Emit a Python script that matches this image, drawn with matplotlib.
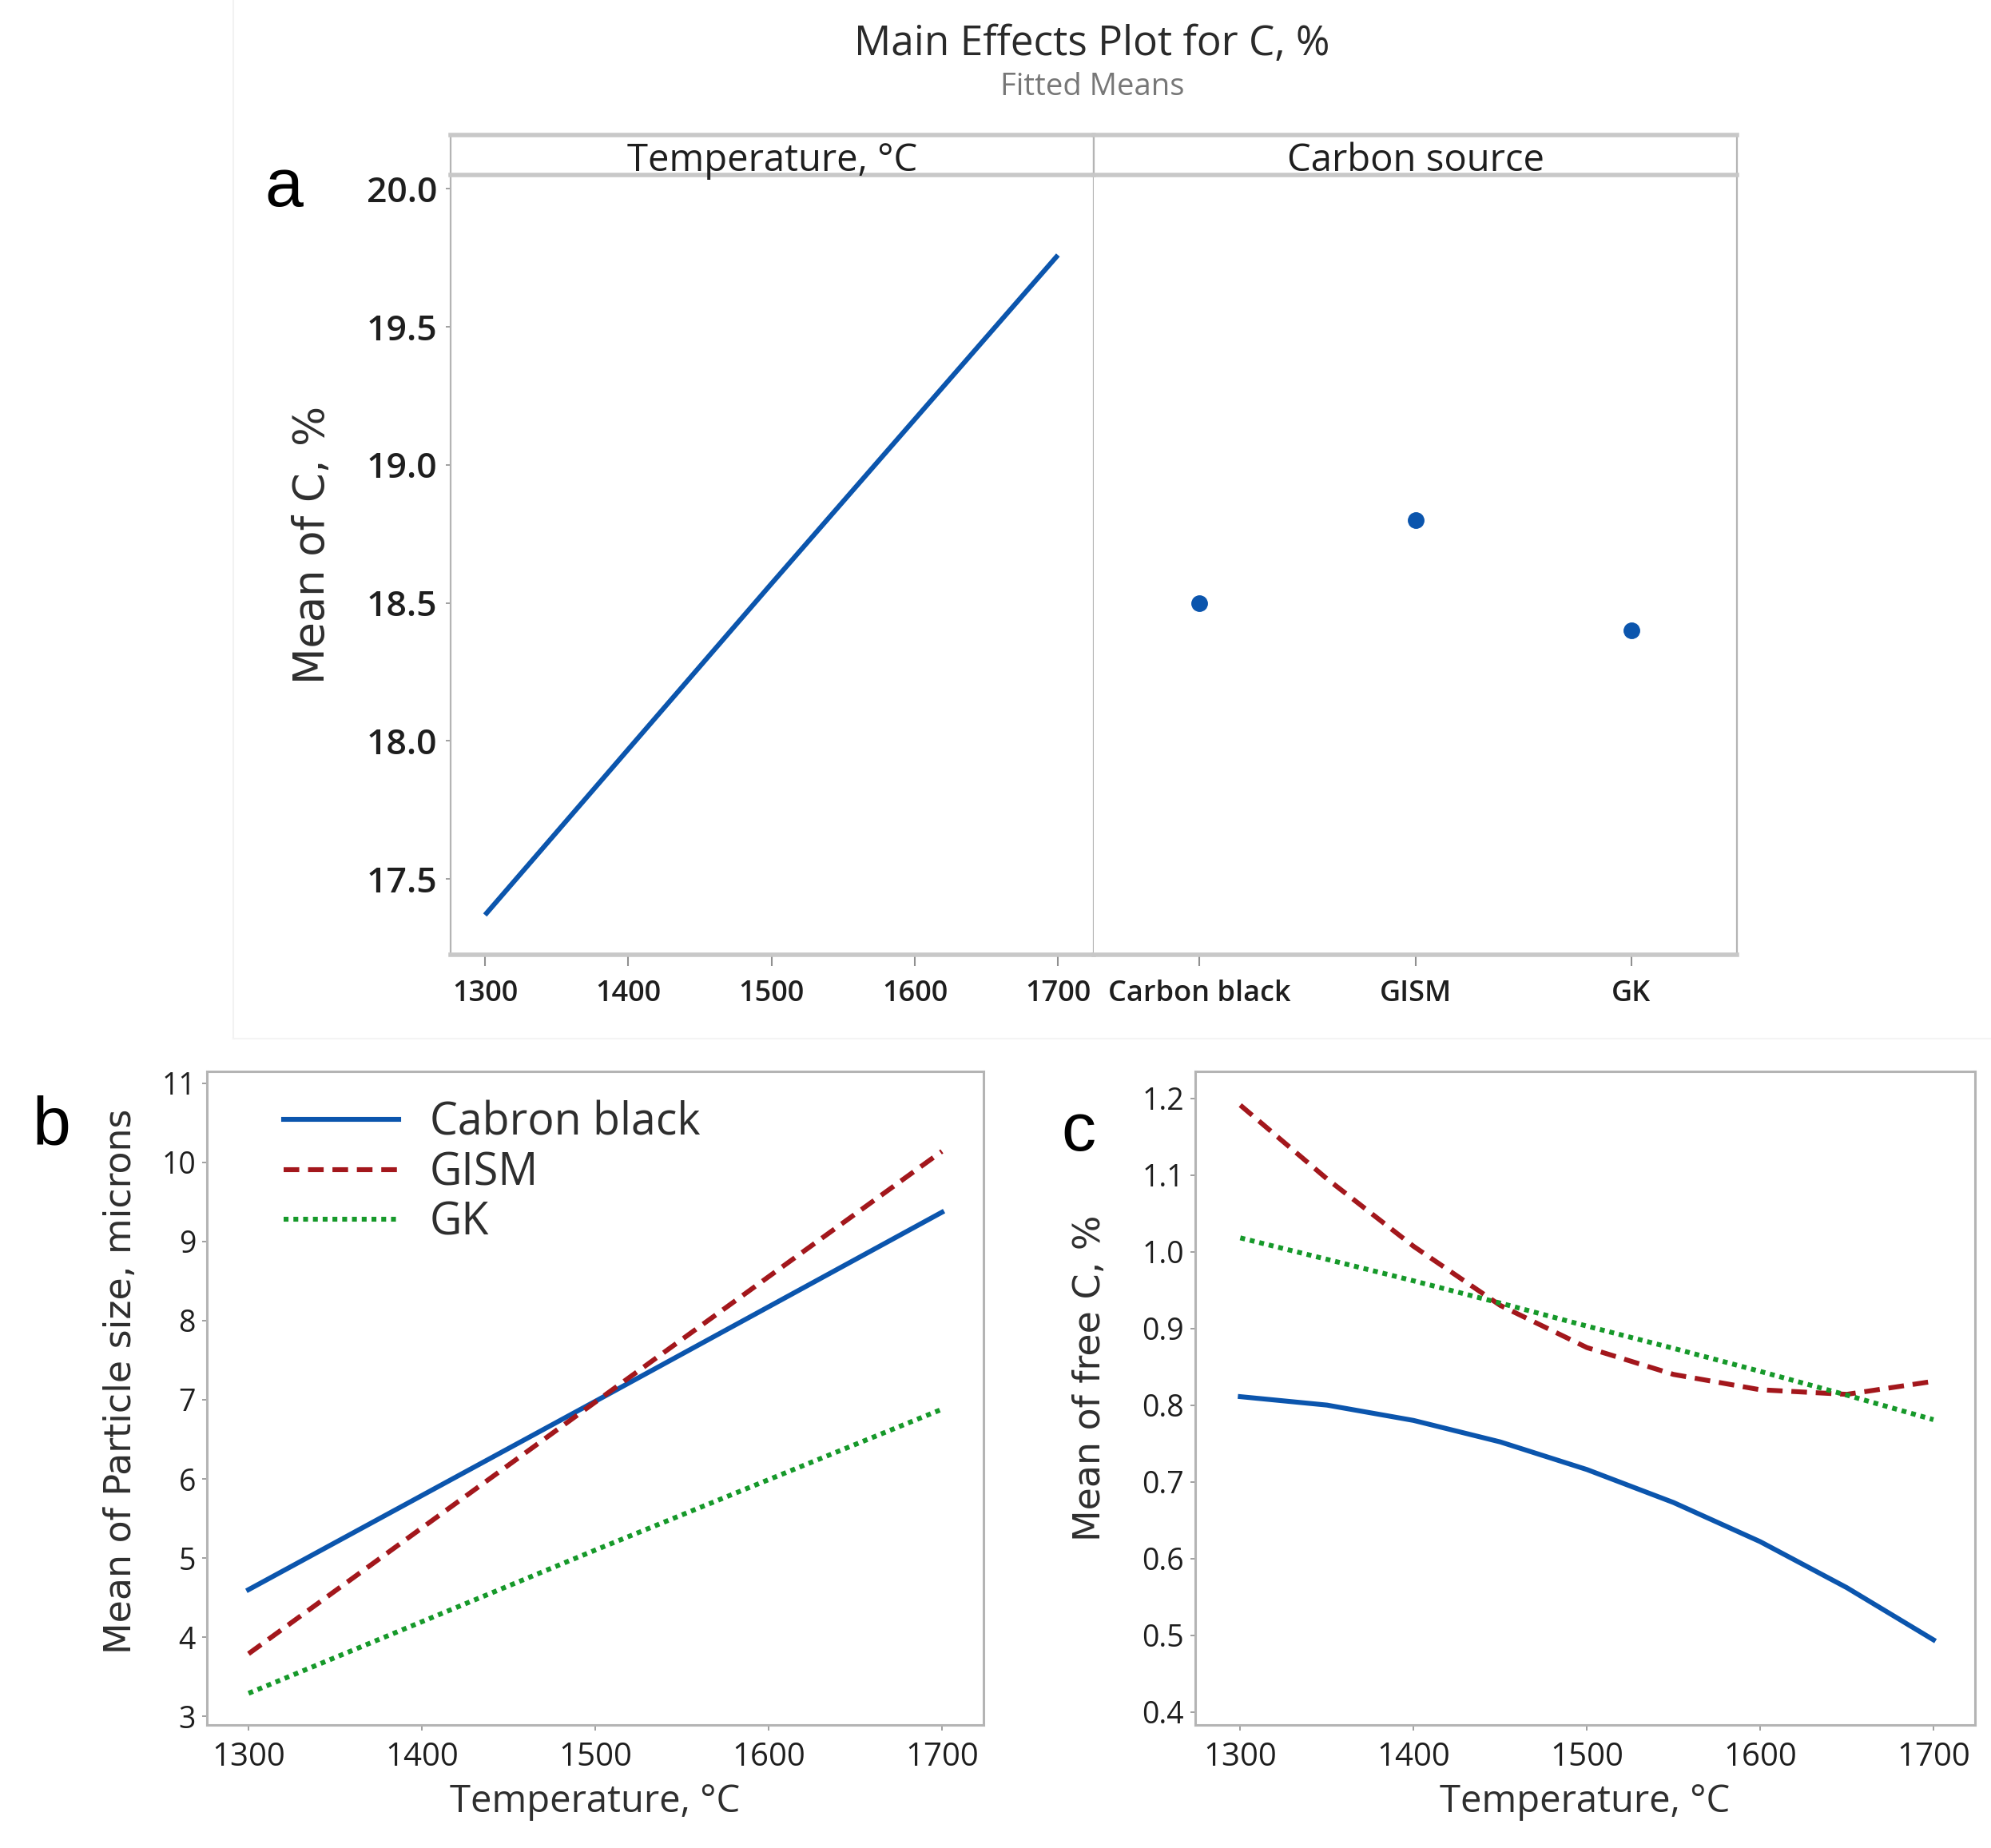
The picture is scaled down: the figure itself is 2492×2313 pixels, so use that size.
import numpy as np
import matplotlib
matplotlib.use('Agg')
import matplotlib.pyplot as plt

plt.rcParams['font.family'] = ['Open Sans', 'DejaVu Sans']

# panel a: main effects for C, %
temps_a = [1300, 1500, 1700]
c_temp = [17.37, 18.57, 19.76]
sources = ['Carbon black', 'GISM', 'GK']
c_source = [18.50, 18.80, 18.40]

# panel b: particle size, microns
temps_b = [1300, 1500, 1700]
size_cb = [4.60, 6.98, 9.37]
size_gism = [3.79, 6.97, 10.14]
size_gk = [3.29, 5.10, 6.88]

# panel c: free C, %
temps_c = [1300, 1350, 1400, 1450, 1500, 1550, 1600, 1650, 1700]
free_cb = [0.811, 0.800, 0.780, 0.752, 0.716, 0.673, 0.622, 0.562, 0.494]
free_gism = [1.191, 1.095, 1.007, 0.930, 0.875, 0.840, 0.820, 0.814, 0.831]
free_gk = [1.018, 0.990, 0.962, 0.933, 0.903, 0.874, 0.844, 0.813, 0.781]

labels = ['Cabron black', 'GISM', 'GK']

blue = '#0b55ad'
red = '#a3171c'
green = '#16992a'
frame = '#b4b4b4'
ink = '#1e1e1e'
LW = 4.4

W, H = 2492, 2313
fig = plt.figure(figsize=(W / 100, H / 100), dpi=100)

def box(l, t, r, b):
    # pixel box -> figure fraction rect
    return [l / W, 1 - b / H, (r - l) / W, (b - t) / H]

def style(ax, lw=2.0):
    for s in ax.spines.values():
        s.set_color(frame)
        s.set_linewidth(lw)
    ax.tick_params(colors='#909090', labelcolor=ink)

# faint border of the top picture
fig.add_artist(plt.Line2D([292 / W, 292 / W], [1, 1 - 1300 / H], color='#f2f2f2', lw=1.5))
fig.add_artist(plt.Line2D([292 / W, 1], [1 - 1300 / H, 1 - 1300 / H], color='#f4f4f4', lw=1.5))

# ---- panel a ----
a1 = fig.add_axes(box(564, 219, 1369, 1195))
a2 = fig.add_axes(box(1369, 219, 2174, 1195))
a1.plot(temps_a, c_temp, color=blue, lw=LW, solid_capstyle='butt')
a2.plot(range(len(sources)), c_source, 'o', color=blue, ms=14)
a1.set_xlim(1276, 1725)
a2.set_xlim(-0.49, 2.49)
for ax in (a1, a2):
    ax.set_ylim(17.226, 20.05)
    style(ax, 1.6)
    ax.spines['top'].set_visible(False)
    ax.spines['bottom'].set_linewidth(4)
    ax.spines['bottom'].set_color('#c8c8c8')
    ax.tick_params(axis='x', length=10, width=1.5, labelsize=26, pad=12)
a1.set_xticks([1300, 1400, 1500, 1600, 1700])
a1.set_yticks([17.5, 18.0, 18.5, 19.0, 19.5, 20.0])
a1.set_yticklabels(['17.5', '18.0', '18.5', '19.0', '19.5', '20.0'])
a1.tick_params(axis='y', length=4, width=1.2, labelsize=32, pad=8)
for t in a1.get_xticklabels() + a1.get_yticklabels():
    t.set_fontweight('semibold')
a2.set_xticks(range(len(sources)))
a2.set_xticklabels(sources, fontweight='semibold')
a2.set_yticks([])
a2.spines['left'].set_visible(False)

for l, r, txt in [(564, 1369, 'Temperature, °C'), (1369, 2174, 'Carbon source')]:
    s = fig.add_axes(box(l, 169, r, 219))
    s.set_xticks([])
    s.set_yticks([])
    style(s, 1.6)
    s.spines['top'].set_linewidth(4)
    s.spines['bottom'].set_linewidth(4)
    s.spines['top'].set_color('#c8c8c8')
    s.spines['bottom'].set_color('#c8c8c8')
    s.text(0.5, 0.36, txt, ha='center', va='center', fontsize=34, color=ink,
           transform=s.transAxes)

fig.text(1367 / W, 1 - 56 / H, 'Main Effects Plot for C, %', ha='center', va='center',
         fontsize=37, color='#2a2a2a')
fig.text(1367 / W, 1 - 109 / H, 'Fitted Means', ha='center', va='center',
         fontsize=27.5, color='#777777')
fig.text(391 / W, 1 - 682 / H, 'Mean of C, %', rotation=90, ha='center', va='center',
         fontsize=38, family='DejaVu Sans', color='#2e2e2e')
fig.text(355 / W, 1 - 236 / H, 'a', ha='center', va='center', fontsize=62,
         family='Liberation Sans')

# ---- panel b ----
b = fig.add_axes(box(259, 1341, 1231, 2159))
b.plot(temps_b, size_cb, color=blue, lw=LW, label=labels[0])
b.plot(temps_b, size_gism, color=red, lw=LW, dashes=(3.2, 1.8), label=labels[1])
b.plot(temps_b, size_gk, color=green, lw=LW, dashes=(1.0, 1.0), label=labels[2])
b.set_xlim(1276, 1724)
b.set_ylim(2.89, 11.15)
b.set_yticks(range(3, 12))
b.legend(loc='upper left', bbox_to_anchor=(0.0988, 0.955), frameon=False, fontsize=40,
         handlelength=2.6, handletextpad=0.69, labelspacing=0.1, borderpad=0,
         borderaxespad=0, labelcolor='#2e2e2e')
fig.text(152 / W, 1 - 1729 / H, 'Mean of Particle size, microns', rotation=90,
         ha='center', va='center', fontsize=33, family='DejaVu Sans', color='#2e2e2e')

# ---- panel c ----
c = fig.add_axes(box(1496, 1341, 2472, 2159))
c.plot(temps_c, free_cb, color=blue, lw=LW)
c.plot(temps_c, free_gism, color=red, lw=LW, dashes=(3.2, 1.8))
c.plot(temps_c, free_gk, color=green, lw=LW, dashes=(1.0, 1.0))
c.set_xlim(1274, 1724)
c.set_ylim(0.383, 1.235)
c.set_yticks([0.4, 0.5, 0.6, 0.7, 0.8, 0.9, 1.0, 1.1, 1.2])
fig.text(1365 / W, 1 - 1725 / H, 'Mean of free C, %', rotation=90,
         ha='center', va='center', fontsize=33, family='DejaVu Sans', color='#2e2e2e')

for ax in (b, c):
    style(ax, 2.2)
    ax.set_xticks([1300, 1400, 1500, 1600, 1700])
    ax.tick_params(axis='x', length=5, width=1.2, labelsize=29, pad=10)
    ax.tick_params(axis='y', length=4, width=1.2, labelsize=27, pad=6)
    ax.set_xlabel('Temperature, °C', fontsize=34, color='#2e2e2e', labelpad=8)

fig.text(64 / W, 1 - 1410 / H, 'b', ha='center', va='center', fontsize=62,
         family='Liberation Sans')
fig.text(1350 / W, 1 - 1418 / H, 'c', ha='center', va='center', fontsize=62,
         family='Liberation Sans')

fig.savefig('out.png', dpi=100)
